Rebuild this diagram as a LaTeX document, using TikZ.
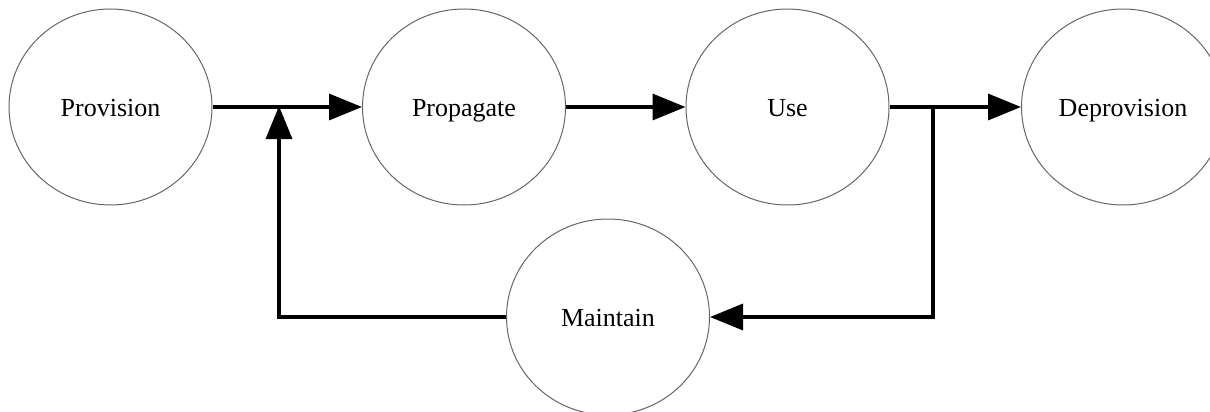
\documentclass[tikz,border=0pt]{standalone}
\usepackage{fontspec}
\setmainfont{Liberation Serif}
\usetikzlibrary{arrows.meta,shapes.geometric}
\begin{document}
\begin{tikzpicture}[x=0.5pt,y=-0.5pt,
  state/.style={ellipse, draw=black!60, line width=0.5pt, minimum width=101.5pt, minimum height=98pt, inner sep=0pt, text height=9.5pt, text depth=0pt, font=\fontsize{13pt}{15pt}\selectfont},
  flow/.style={line width=1.7pt, -{Triangle[length=16.5pt,width=13pt]}},
  plain/.style={line width=1.7pt}]
\useasboundingbox (0,0) rectangle (1210,412);
\node[state] (prov) at (110.5,107) {Provision};
\node[state] (prop) at (464,107) {Propagate};
\node[state] (use) at (787.5,107) {Use};
\node[state] (deprov) at (1123,107) {Deprovision};
\node[state] (maint) at (608,317) {Maintain};
\coordinate (j1) at (279,106);
\coordinate (j2) at (933,107);
\coordinate (c1) at (279,317);
\coordinate (c2) at (933,317);
\draw[flow] (prov.east) -- (prop.west);
\draw[flow] (prop.east) -- (use.west);
\draw[flow] (use.east) -- (deprov.west);
\draw[flow] (maint.west) -- (c1) -- (j1);
\draw[flow] (j2) -- (c2) -- (maint.east);
\end{tikzpicture}
\end{document}
